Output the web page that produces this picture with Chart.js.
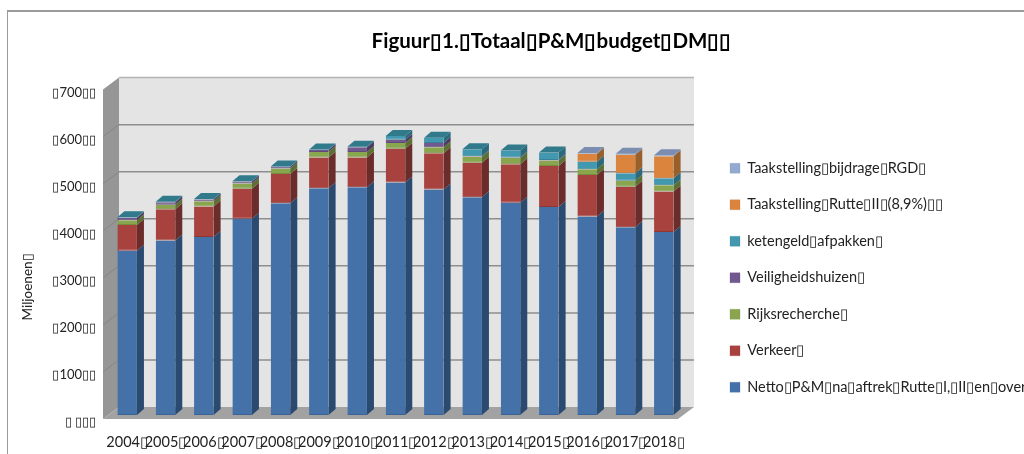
<!DOCTYPE html>
<html><head><meta charset="utf-8">
<script src="https://cdn.jsdelivr.net/npm/chart.js@4"></script>
<style>html,body{margin:0;padding:0;background:#fff;overflow:hidden}
#wrap{position:relative;width:1024px;height:454px;overflow:hidden}
#frame{position:absolute;left:7px;top:10px;width:1100px;height:600px;border:2px solid #9a9a9a;border-left-width:1px;pointer-events:none}</style>
</head><body><div id="wrap"><canvas id="c" width="1024" height="454"></canvas><div id="frame"></div></div>
<script>
const T='\u25AF';
const categories=['2004','2005','2006','2007','2008','2009','2010','2011','2012','2013','2014','2015','2016','2017','2018'];
const tickValues=[0,100,200,300,400,500,600,700];
const netto=[349,371,378,417,450,482,484,494,479,463,451,442,422,399,389];
const verkeer=[55,66,65,64,62,65,63,72,77,73,82,87,88,86,86];
const rijksrecherche=[10,10,11,11,12,12,12,12,13,13,13,12,12,13,13];
const veiligheidshuizen=[5,5,4,4,3,4,10,7,9,1,1,1,0,0,0];
const ketengeld=[1,1,1,1,1,1,1,8,11,15,15,16,16,16,15];
const rutte=[0,0,0,0,0,0,0,0,0,0,0,0,17,39,47];
const rgd=[0,0,0,0,0,0,0,0,0,0,0,0,2,2,2];
const fills=['#4471A8','#A8423F','#89A54E','#71588F','#4198AF','#DB843D','#93A9CF'];
const sides=['#2B4A70','#6B2D2B','#5C7034','#4C3A62','#2B6A7C','#99602B','#6E83A8'];
const tops=['#3A6090','#8C3836','#728A40','#5D4876','#307A8C','#B96E30','#7B8DB0'];
const edges=['#3B6496','#8F3633','#748C40','#5F4A7A','#37829A','#BC6E30','#7D93B8'];
const names=['Netto'+T+'P&M'+T+'na'+T+'aftrek'+T+'Rutte'+T+'I,'+T+'II'+T+'en'+T+'overig'+T,'Verkeer'+T,'Rijksrecherche'+T,'Veiligheidshuizen'+T,'ketengeld'+T+'afpakken'+T,'Taakstelling'+T+'Rutte'+T+'II'+T+'(8,9%)'+T+T,'Taakstelling'+T+'bijdrage'+T+'RGD'+T];
const series=[netto,verkeer,rijksrecherche,veiligheidshuizen,ketengeld,rutte,rgd];
const FONT='Lato, Carlito, sans-serif';
const yTitle='Miljoenen'+T;

const threeD={id:'threeD',
 afterLayout(ch){const l=ch.legend;const h=l.bottom-l.top;l.left=708;l.right=1024;l.top=139;l.bottom=139+h;
   const t=ch.titleBlock;t.left+=60;t.right+=60;},
 beforeDatasetsDraw(ch){const c=ch.ctx,y=ch.scales.y,a=ch.chartArea;
  const fx=-5,fy=4,bx=11,by=-8,b0=y.getPixelForValue(0),t0=y.getPixelForValue(700),L=a.left,R=a.right;
  c.save();
  c.fillStyle='#E4E4E4';c.fillRect(L+bx,t0+by,R-L,b0-t0);
  c.fillStyle='#969696';c.beginPath();c.moveTo(L+fx,t0+fy);c.lineTo(L+bx,t0+by);c.lineTo(L+bx,b0+by);c.lineTo(L+fx,b0+fy);c.closePath();c.fill();
  c.fillStyle='#A2A2A2';c.beginPath();c.moveTo(L+fx,b0+fy);c.lineTo(L+bx,b0+by);c.lineTo(R+bx,b0+by);c.lineTo(R+fx,b0+fy);c.closePath();c.fill();
  c.strokeStyle='#B4B4B4';c.lineWidth=1.5;c.beginPath();c.moveTo(L+bx,t0+by);c.lineTo(R+bx,t0+by);c.stroke();
  for(const v of tickValues){if(v===700||v===0)continue;const p=y.getPixelForValue(v);
    c.strokeStyle='#8E8E8E';c.lineWidth=1.5;c.beginPath();c.moveTo(L+bx,p+by);c.lineTo(R+bx,p+by);c.stroke();
    c.strokeStyle='#868686';c.lineWidth=1;c.beginPath();c.moveTo(L+fx,p+fy);c.lineTo(L+bx,p+by);c.stroke();}
  c.restore();},
 afterDatasetsDraw(ch){const c=ch.ctx,dx=7,dy=-6;c.save();
  const n=categories.length;
  for(let i=0;i<n;i++){let top=null;
   ch.data.datasets.forEach((d,k)=>{if(!d.data[i])return;const e=ch.getDatasetMeta(k).data[i];const p=e.getProps(['x','y','base','width'],true);
     const r=p.x+p.width/2;c.fillStyle=sides[k];c.beginPath();c.moveTo(r,p.y);c.lineTo(r+dx,p.y+dy);c.lineTo(r+dx,p.base+dy);c.lineTo(r,p.base);c.closePath();c.fill();top={k,p};});
   const {k,p}=top;const l=p.x-p.width/2,r=p.x+p.width/2;
   c.fillStyle=tops[k];c.beginPath();c.moveTo(l,p.y);c.lineTo(l+dx,p.y+dy);c.lineTo(r+dx,p.y+dy);c.lineTo(r,p.y);c.closePath();c.fill();}
  c.font='13.5px '+FONT;c.fillStyle='#222';c.translate(28,287);c.rotate(-Math.PI/2);c.textAlign='center';c.textBaseline='middle';
  c.fillText(yTitle,0,0);
  c.restore();}
};
new Chart(document.getElementById('c'),{type:'bar',
 data:{labels:categories.map(s=>s+T),datasets:series.map((d,i)=>({label:names[i],data:d,backgroundColor:fills[i],borderColor:edges[i],borderWidth:{bottom:1,top:0,left:0,right:0},borderSkipped:false,barPercentage:.51,categoryPercentage:1}))},
 options:{responsive:false,animation:false,
  layout:{padding:{left:0,right:41,top:0,bottom:0}},
  plugins:{tooltip:{enabled:false},
   title:{display:true,text:'Figuur'+T+'1.'+T+'Totaal'+T+'P&M'+T+'budget'+T+'DM'+T+T,font:{family:FONT,size:20.5,weight:'bold'},color:'#000',padding:{top:29,bottom:32}},
   legend:{position:'right',align:'start',reverse:true,maxWidth:300,labels:{boxWidth:10,boxHeight:10,padding:22,font:{family:FONT,size:14.5},color:'#222'}}},
  scales:{
   x:{stacked:true,grid:{display:false},border:{display:false},afterFit(s){s.height=39;},ticks:{autoSkip:false,maxRotation:0,minRotation:0,color:'#222',font:{family:FONT,size:14.5},padding:11}},
   y:{stacked:true,min:0,max:700,grid:{display:false},border:{display:false},afterFit(s){s.width=108;},
      afterBuildTicks(s){s.ticks=tickValues.map(v=>({value:v}));},
      ticks:{color:'#222',font:{family:FONT,size:13},padding:4,labelOffset:7,
      callback:v=>v===0?T+' '+T+T+T:T+v+T+T}}}
 },plugins:[threeD]});
</script></body></html>
